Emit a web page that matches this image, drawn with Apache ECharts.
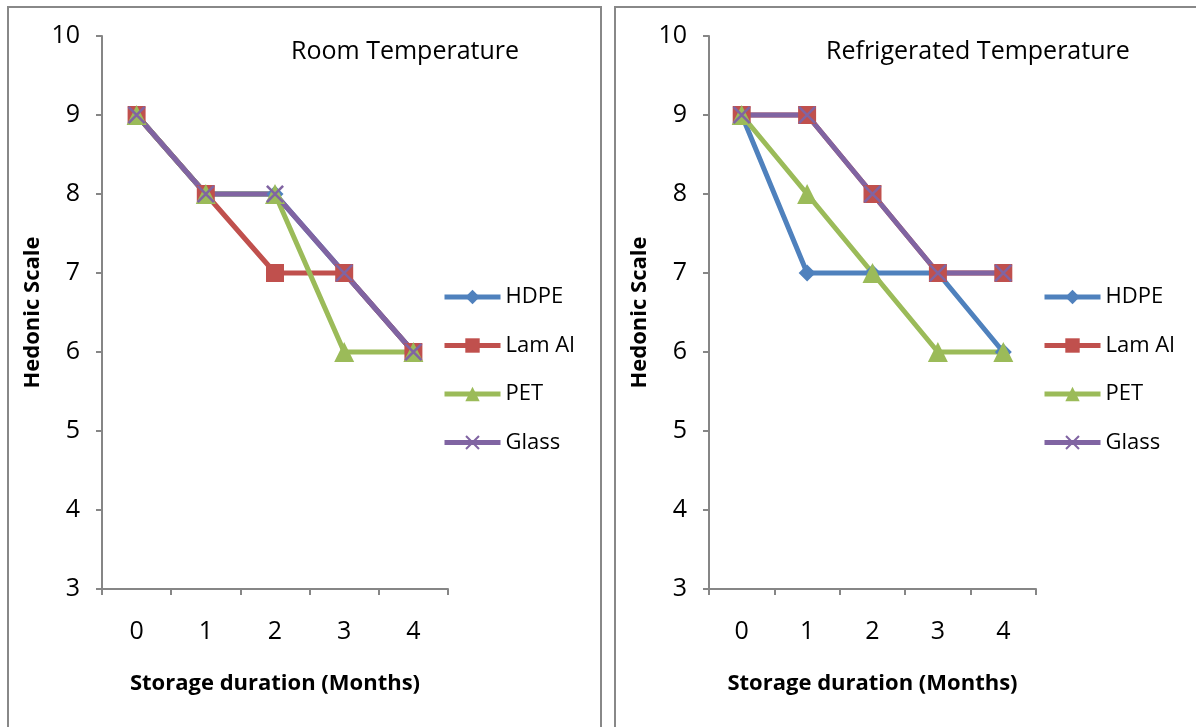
<!DOCTYPE html>
<html>
<head>
<meta charset="utf-8">
<script src="https://cdn.jsdelivr.net/npm/echarts@6/dist/echarts.min.js"></script>
<style>
html,body{margin:0;padding:0;background:#fff;}
#chart{width:1196px;height:727px;}
</style>
</head>
<body>
<div id="chart"></div>
<script>
const categories = ['0', '1', '2', '3', '4'];
const seriesNames = ['HDPE', 'Lam Al', 'PET', 'Glass'];
// Room Temperature
const roomHDPE  = [9, 8, 8, 7, 6];
const roomLamAl = [9, 8, 7, 7, 6];
const roomPET   = [9, 8, 8, 6, 6];
const roomGlass = [9, 8, 8, 7, 6];
// Refrigerated Temperature
const fridgeHDPE  = [9, 7, 7, 7, 6];
const fridgeLamAl = [9, 9, 8, 7, 7];
const fridgePET   = [9, 8, 7, 6, 6];
const fridgeGlass = [9, 9, 8, 7, 7];
const yTicks = { min: 3, max: 10, interval: 1 };

const FONT = '"Open Sans", Lato, sans-serif';
const colors = ['#4F81BD', '#C0504D', '#9BBB59', '#8064A2'];
const symbols = ['diamond', 'rect', 'triangle', 'path://M0,1 L1,0 L10,9 L9,10 Z M9,0 L10,1 L1,10 L0,9 Z'];
const symbolSizes = [17, 18, 20, 18];
const axisGray = '#868686';

function makeXAxis(gridIndex) {
  return {
    type: 'category', gridIndex, data: categories, boundaryGap: true,
    name: 'Storage duration (Months)', nameLocation: 'middle', nameGap: 84,
    nameTextStyle: { fontFamily: FONT, fontSize: 22, fontWeight: 'bold', color: '#000' },
    axisLine: { lineStyle: { color: axisGray, width: 2 } },
    axisTick: { show: true, length: 6, lineStyle: { color: axisGray, width: 2 } },
    axisLabel: { fontFamily: FONT, fontSize: 25, color: '#000', margin: 30 },
    splitLine: { show: false }
  };
}
function makeYAxis(gridIndex) {
  return {
    type: 'value', gridIndex, min: yTicks.min, max: yTicks.max, interval: yTicks.interval,
    name: 'Hedonic Scale', nameLocation: 'middle', nameGap: 58,
    nameTextStyle: { fontFamily: FONT, fontSize: 22, fontWeight: 'bold', color: '#000' },
    axisLine: { show: true, lineStyle: { color: axisGray, width: 2 } },
    axisTick: { show: true, length: 6, lineStyle: { color: axisGray, width: 2 } },
    axisLabel: { fontFamily: FONT, fontSize: 25, color: '#000', margin: 22 },
    splitLine: { show: false }
  };
}
function makeSeries(dataArr, idx) {
  return dataArr.map((d, i) => ({
    name: seriesNames[i], type: 'line', xAxisIndex: idx, yAxisIndex: idx, data: d,
    symbol: symbols[i], symbolSize: symbolSizes[i], showAllSymbol: true,
    lineStyle: { color: colors[i], width: 5 },
    itemStyle: { color: colors[i] },
    animation: false
  }));
}
function makeLegend(left) {
  return {
    orient: 'vertical', left, top: 281, itemGap: 26.5, itemWidth: 56, itemHeight: 18,
    textStyle: { fontFamily: FONT, fontSize: 22, color: '#000' },
    lineStyle: { width: 5 },
    data: seriesNames, selectedMode: false
  };
}

const chart = echarts.init(document.getElementById('chart'));
chart.setOption({
  animation: false,
  color: colors,
  title: [
    { text: 'Room Temperature', left: 286, top: 34, textStyle: { fontFamily: FONT, fontSize: 25, fontWeight: 'normal', color: '#000' } },
    { text: 'Refrigerated Temperature', left: 821, top: 34, textStyle: { fontFamily: FONT, fontSize: 25, fontWeight: 'normal', color: '#000' } }
  ],
  legend: [makeLegend(437), makeLegend(1037)],
  grid: [
    { left: 102, top: 36, width: 346, height: 553 },
    { left: 709, top: 36, width: 327, height: 553 }
  ],
  xAxis: [makeXAxis(0), makeXAxis(1)],
  yAxis: [makeYAxis(0), makeYAxis(1)],
  series: [
    ...makeSeries([roomHDPE, roomLamAl, roomPET, roomGlass], 0),
    ...makeSeries([fridgeHDPE, fridgeLamAl, fridgePET, fridgeGlass], 1)
  ],
  graphic: [
    { type: 'rect', silent: true, z: -1, shape: { x: 8, y: 7, width: 593, height: 740 }, style: { fill: 'none', stroke: '#888', lineWidth: 2 } },
    { type: 'rect', silent: true, z: -1, shape: { x: 615, y: 7, width: 600, height: 740 }, style: { fill: 'none', stroke: '#888', lineWidth: 2 } }
  ]
});
</script>
</body>
</html>
